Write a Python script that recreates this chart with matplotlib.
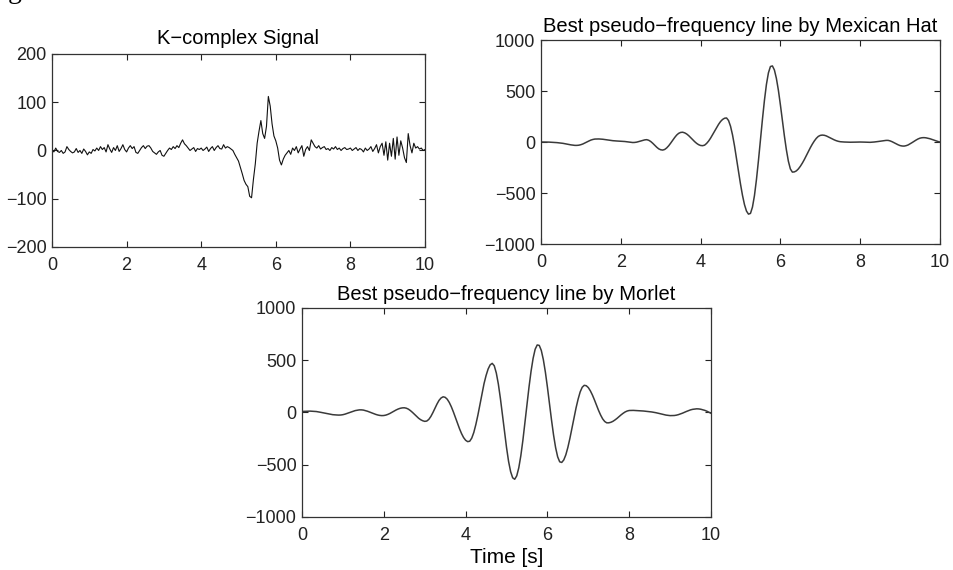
import numpy as np
import matplotlib
matplotlib.use("Agg")
import matplotlib.pyplot as plt

plt.rcParams['font.family'] = ['Liberation Sans', 'DejaVu Sans']

# all three traces are sampled every 0.05 s from 0 to 10 s
t = np.arange(201) * 0.05

# K-complex raw signal
kc = [2, -3, 5, -2, -4, 0, -6, -3, 8, 2, -2, -5, -3, 4, -4, 0, -6, 3, -2, -9,
      -3, -6, 2, -1, 5, 0, 8, 2, 6, -3, 12, 3, -4, 6, 0, 10, -2, 4, 12, 2,
      -3, 5, 10, 4, 8, -4, -6, 0, 6, 10, 4, 9, 10, 5, -2, -5, -8, -3, 0, -10,
      -12, -6, 0, 5, 2, 8, 4, 10, 6, 15, 22, 14, 10, 5, 0, 3, 6, -2, 4, 2,
      5, 0, 3, 7, -2, 4, 8, 0, 6, 10, 4, 3, 12, 5, 8, 6, 3, 0, -8, -15,
      -22, -35, -48, -62, -70, -75, -95, -98, -60, -28, 15, 40, 62, 35, 25, 50, 112, 92, 55, 30,
      20, 5, -20, -30, -18, -10, -5, 0, -8, 5, 0, 8, -5, 3, 10, -12, 2, 8, 0, 22,
      15, 8, 5, 10, 3, 6, 8, 2, 4, 0, 6, 3, 8, 2, 5, 0, 4, 6, 2, 3,
      5, 0, 3, 6, 0, 4, 2, -3, 5, 0, 3, 8, -2, 4, 12, -5, 8, 15, -10, 18,
      -20, 15, -12, 25, -18, 28, -10, 20, 5, -15, -25, 35, 10, -5, 15, 5, 8, 3, 5, 0,
      2]

# best pseudo-frequency line, Mexican Hat
mexhat = [0, 0, 0, 0, -1, -2, -3, -4, -6, -8, -10, -13, -17, -21, -25, -28, -31, -33, -33, -31,
          -26, -19, -9, 0, 10, 19, 25, 29, 30, 30, 29, 27, 24, 21, 18, 15, 13, 11, 10, 9,
          8, 6, 5, 3, 0, -3, -5, -4, -1, 4, 10, 16, 21, 23, 17, 5, -12, -32, -51, -67,
          -76, -79, -73, -58, -37, -11, 17, 44, 68, 85, 94, 96, 90, 79, 63, 44, 24, 4, -13, -26,
          -34, -36, -31, -14, 9, 38, 72, 107, 142, 173, 201, 221, 233, 236, 211, 155, 70, -38, -160, -288,
          -412, -523, -614, -677, -707, -700, -638, -525, -368, -182, 20, 222, 408, 565, 678, 740, 746, 706, 623, 507,
          365, 212, 60, -76, -188, -264, -295, -293, -283, -264, -238, -207, -172, -133, -95, -56, -21, 10, 36, 55,
          65, 68, 66, 60, 50, 40, 30, 21, 13, 7, 3, 1, 0, -1, -2, -2, -2, -1, -1, 0,
          0, 0, -1, -2, -3, -3, -2, 0, 2, 5, 8, 11, 14, 16, 16, 11, 3, -7, -17, -27,
          -35, -39, -40, -36, -29, -18, -6, 7, 19, 30, 38, 42, 43, 41, 37, 32, 25, 18, 11, 5,
          0]

# best pseudo-frequency line, Morlet
morlet = [10, 11, 12, 13, 13, 12, 11, 9, 6, 2, -2, -6, -10, -14, -18, -21, -23, -24, -25, -24,
          -21, -16, -9, -2, 5, 12, 18, 22, 25, 25, 23, 18, 12, 5, -3, -11, -18, -24, -28, -30,
          -29, -25, -18, -9, 2, 13, 24, 33, 40, 44, 45, 41, 32, 18, 1, -18, -37, -55, -69, -79,
          -85, -82, -66, -38, -1, 41, 81, 116, 139, 150, 145, 127, 96, 55, 6, -48, -103, -155, -202, -240,
          -266, -279, -275, -245, -191, -115, -25, 75, 176, 276, 354, 416, 456, 470, 447, 378, 272, 135, -21, -182,
          -335, -468, -566, -625, -639, -606, -529, -413, -266, -100, 74, 244, 395, 518, 605, 646, 642, 594, 506, 386,
          242, 85, -72, -216, -336, -424, -472, -478, -454, -405, -334, -247, -150, -50, 44, 127, 196, 241, 260, 256,
          238, 207, 167, 120, 70, 20, -24, -61, -86, -99, -99, -94, -85, -72, -57, -40, -23, -8, 5, 14,
          19, 20, 20, 19, 18, 17, 16, 14, 12, 10, 8, 5, 2, -2, -6, -11, -16, -21, -25, -28,
          -30, -30, -29, -26, -21, -14, -7, 2, 10, 18, 25, 30, 33, 35, 34, 31, 26, 20, 12, 2,
          -8]

xticks = [0, 2, 4, 6, 8, 10]


def style(ax, yticks):
    ax.set_xlim(0, 10)
    ax.set_ylim(yticks[0], yticks[-1])
    ax.set_xticks(xticks)
    ax.set_yticks(yticks)
    ax.tick_params(direction='in', top=True, right=True, length=4,
                   labelsize=13, width=0.8, colors='#222222')
    ax.tick_params(axis='x', pad=7)
    ax.tick_params(axis='y', pad=4)
    for s in ax.spines.values():
        s.set_linewidth(0.9)
        s.set_color('#333333')


fig = plt.figure(figsize=(9.54, 5.7), dpi=100)

ax1 = fig.add_axes([0.0545, 0.5667, 0.391, 0.3386])
ax1.plot(t, kc, color='#111111', lw=0.8)
style(ax1, [-200, -100, 0, 100, 200])
ax1.set_title('K\u2212complex Signal', fontsize=14.5, pad=7)

ax2 = fig.add_axes([0.5671, 0.5719, 0.4182, 0.3579])
ax2.plot(t, mexhat, color='#3a3a3a', lw=1.1)
style(ax2, [-1000, -500, 0, 500, 1000])
ax2.set_title('Best pseudo\u2212frequency line by Mexican Hat', fontsize=14.5, pad=6)

ax3 = fig.add_axes([0.3166, 0.093, 0.4287, 0.3667])
ax3.plot(t, morlet, color='#3a3a3a', lw=1.1)
style(ax3, [-1000, -500, 0, 500, 1000])
ax3.set_title('Best pseudo\u2212frequency line by Morlet', fontsize=14.5, pad=6)
ax3.set_xlabel('Time [s]', fontsize=15, labelpad=3)

# cropped letter from the page text above the figure
fig.text(0.008, 1.0 + 2 / 570, 'g', family=['Liberation Serif', 'DejaVu Serif'],
         fontsize=20, va='baseline')

fig.savefig('out.png', dpi=100)
